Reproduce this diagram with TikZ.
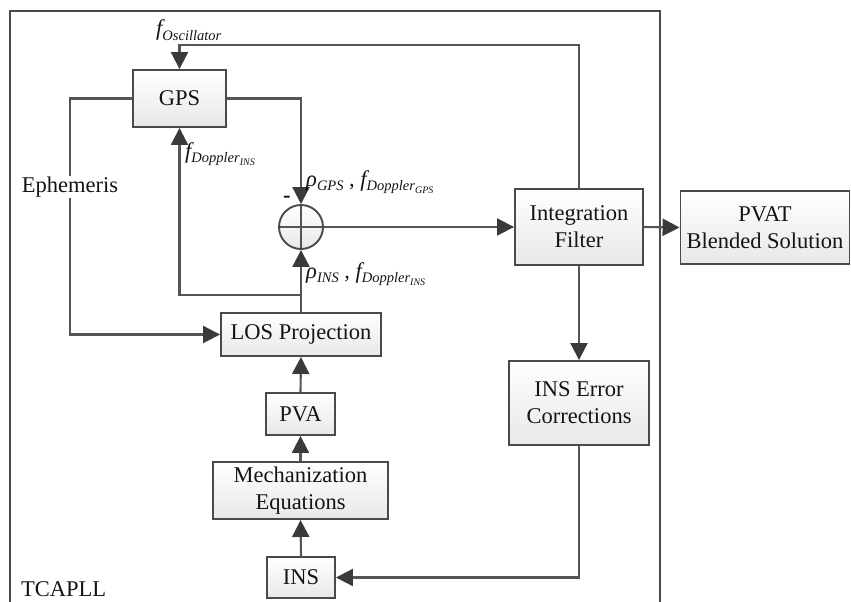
\documentclass[tikz,border=0pt]{standalone}
\usepackage{fontspec}
\setmainfont{Liberation Serif}
\usetikzlibrary{arrows.meta,calc}
\definecolor{ln}{HTML}{555555}
\definecolor{bd}{HTML}{4A4A4A}
\definecolor{ah}{HTML}{3A3A3A}
\definecolor{tx}{HTML}{141414}
\newcommand\mainsz{\fontsize{22.5}{27}\selectfont}
\newcommand\lsub[1]{\raisebox{-0.45ex}{\fontsize{14.5}{14}\selectfont\itshape #1}}
\newcommand\llsub[1]{\raisebox{-0.4ex}{\fontsize{10}{10}\selectfont\itshape #1}}
\begin{document}
\begin{tikzpicture}[x=1pt,y=-1pt,font=\mainsz,text=tx,
  blk/.style={draw=bd,line width=1.9pt,top color=white,bottom color=gray!18,inner sep=0pt,align=center},
  wire/.style={draw=ln,line width=2.1pt},
  arr/.style={wire,-{Triangle[length=17pt,width=17pt,color=ah]}},
  lbl/.style={inner sep=0pt,anchor=base west}]
\useasboundingbox (0,0) rectangle (851,602);
% outer frame
\draw[bd,line width=1.9pt] (10,610) -- (10,11) -- (660,11) -- (660,610);
% blocks
\node[blk,minimum width=93pt,minimum height=57pt] (gps) at (179.5,98.5) {GPS};
\node[blk,minimum width=160pt,minimum height=43pt] (los) at (301,334.5) {LOS Projection};
\node[blk,minimum width=69pt,minimum height=42pt] (pva) at (300.5,414) {PVA};
\node[blk,minimum width=175pt,minimum height=57pt] (mech) at (300.5,490.5) {Mechanization\\Equations};
\node[blk,minimum width=68pt,minimum height=41pt] (ins) at (301,577.5) {INS};
\node[blk,minimum width=128pt,minimum height=76pt] (intf) at (579,227) {Integration\\Filter};
\node[blk,minimum width=169pt,minimum height=73pt] (pvat) at (765,227.5) {PVAT\\Blended Solution};
\node[blk,minimum width=140pt,minimum height=84pt] (iec) at (579,403) {INS Error\\Corrections};
\node[circle,draw=bd,line width=1.9pt,top color=white,bottom color=gray!18,minimum size=44pt,inner sep=0pt,
  path picture={\draw[ln,line width=1.9pt] (path picture bounding box.north) -- (path picture bounding box.south)
  (path picture bounding box.west) -- (path picture bounding box.east);}] (sum) at (301,227) {};
\node[fill=white,inner sep=1pt] (eph) at (70,187) {Ephemeris};
\coordinate (top) at (0,45);
\coordinate (br) at (301,295);
% connectors
\draw[arr] (intf.north) |- (gps.north |- top) -- (gps.north);
\draw[wire] (gps.west) -| (eph.north);
\draw[arr] (eph.south) |- (los.west);
\draw[arr] (gps.east) -| (sum.north);
\draw[arr] (los.north) -- (sum.south);
\draw[arr] (br) -| (gps.south);
\draw[arr] (sum.east) -- (intf.west);
\draw[arr] (intf.east) -- (pvat.west);
\draw[arr] (intf.south) -- (iec.north);
\draw[arr] (iec.south) |- (ins.east);
\draw[arr] (ins.north) -- (mech.south);
\draw[arr] (mech.north) -- (pva.south);
\draw[arr] (pva.north) -- (los.south);
% labels
\node[lbl] (fosc) at (156,36) {\itshape f\lsub{Oscillator}};
\node[lbl] (fdi) at (185,158) {\itshape f\lsub{Doppler\llsub{INS}}};
\node[lbl] (minus) at (283,202) {\bfseries -};
\node[lbl] (rgps) at (306,186) {\itshape ρ\lsub{GPS} , f\lsub{Doppler\llsub{GPS}}};
\node[lbl] (rins) at (306,278) {\itshape ρ\lsub{INS} , f\lsub{Doppler\llsub{INS}}};
\node[lbl] (tcapll) at (21,596) {TCAPLL};
\end{tikzpicture}
\end{document}
